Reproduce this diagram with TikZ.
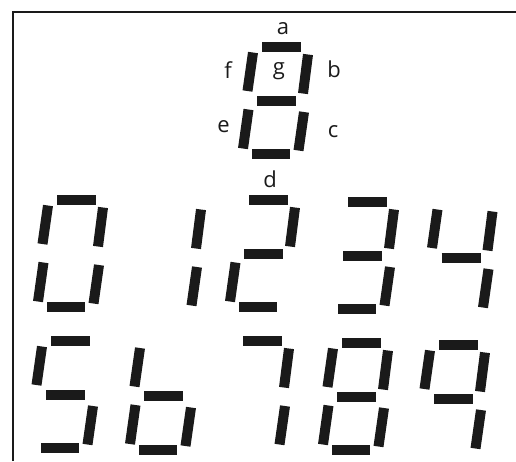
\documentclass[tikz,border=0pt]{standalone}
\usepackage{fontspec}
\setmainfont{Open Sans}
\definecolor{segcol}{HTML}{1A1A1A}
\begin{document}
\begin{tikzpicture}[x=1pt,y=-1pt,
  seg/.style={line width=10pt, draw=segcol},
  lbl/.style={font=\fontsize{22}{22}\selectfont, anchor=base, inner sep=0pt, text=segcol},
  frameline/.style={line width=1.5pt, draw=segcol},
  sa/.pic={\draw[seg] (0,5) -- (39,5);},
  sg/.pic={\draw[seg] (-5,58.5) -- (34,58.5);},
  sd/.pic={\draw[seg] (-10,112) -- (28,112);},
  sf/.pic={\draw[seg] (-9,10.5) -- (-14.5,49);},
  sb/.pic={\draw[seg] (46,12.5) -- (41,51.5);},
  se/.pic={\draw[seg] (-13.5,67.5) -- (-19,106.5);},
  sc/.pic={\draw[seg] (42,70) -- (36.5,108.5);}
]
\useasboundingbox (0,0) rectangle (516,461);
% frame
\draw[frameline] (13,461) -- (13,12) -- (516,12);

% labelled reference digit
\foreach \s in {a,b,c,d,e,f,g} \pic at (262,42) {s\s};
\node[lbl] (la) at (283,34) {a};
\node[lbl] (lf) at (228,78) {f};
\node[lbl] (lg) at (279,74) {g};
\node[lbl] (lb) at (334,77) {b};
\node[lbl] (le) at (223.5,132) {e};
\node[lbl] (lc) at (333,137) {c};
\node[lbl] (ld) at (270,187) {d};

% digits 0-4
\foreach \s in {a,b,c,d,e,f} \pic at (57,195) {s\s};
\foreach \s in {b,c} \pic at (155,197) {s\s};
\foreach \s in {a,b,g,e,d} \pic at (249,195) {s\s};
\foreach \s in {a,b,g,c,d} \pic at (348,197) {s\s};
\foreach \s in {f,g,b,c} \pic at (446.5,199) {s\s};

% digits 5-9
\foreach \s in {a,f,g,c,d} \pic at (51,336) {s\s};
\foreach \s in {f,g,e,c,d} \pic at (149,337.5) {s\s};
\foreach \s in {a,b,c} \pic at (243,336) {s\s};
\foreach \s in {a,b,c,d,e,f,g} \pic at (342,338) {s\s};
\foreach \s in {a,b,c,f,g} \pic at (439,340) {s\s};
\end{tikzpicture}
\end{document}
